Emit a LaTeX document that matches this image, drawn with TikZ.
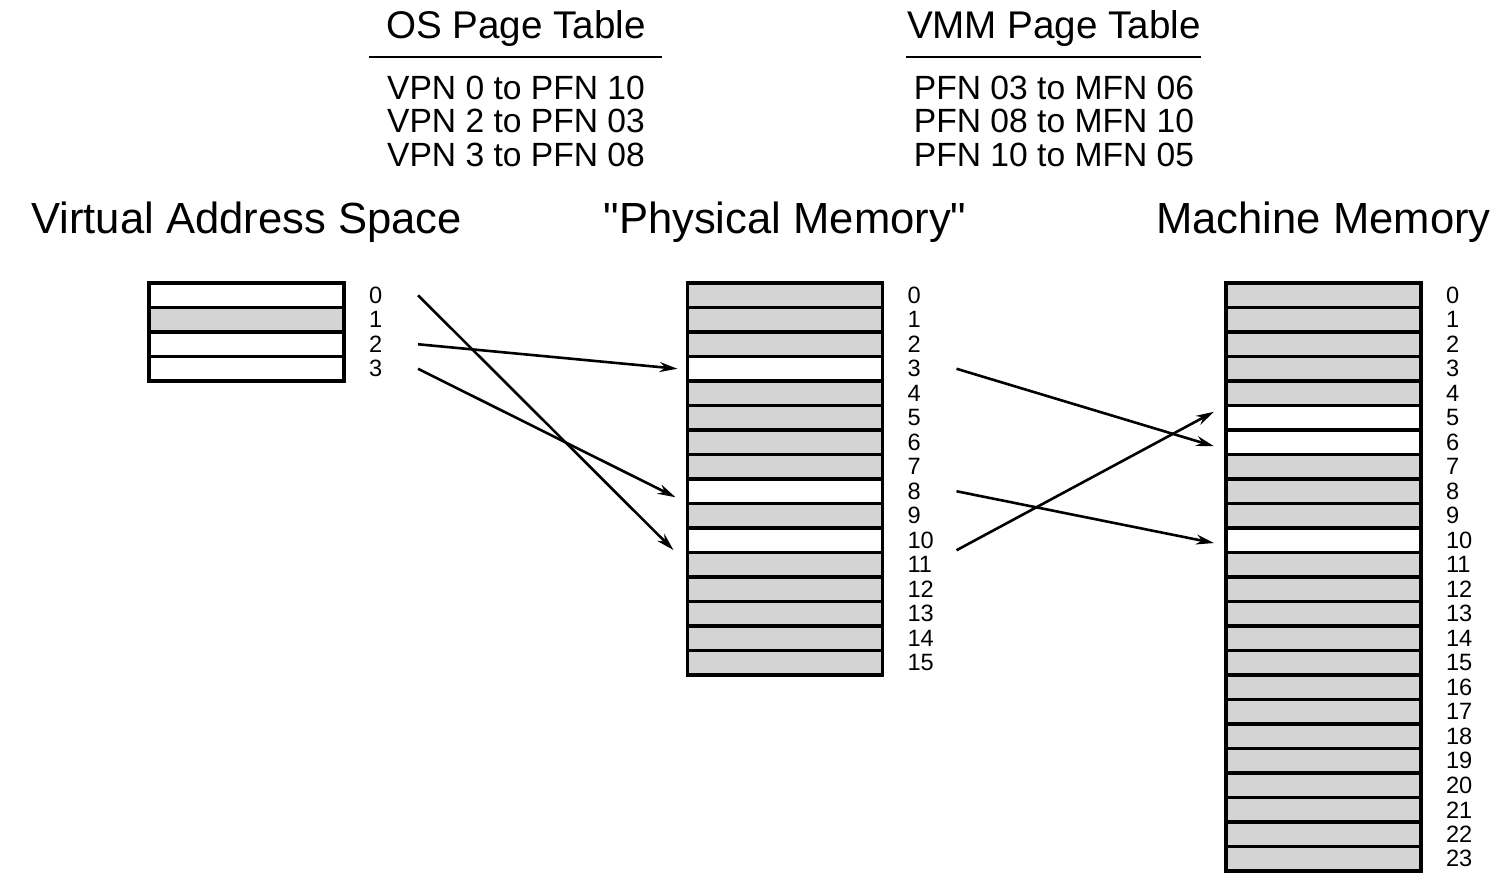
\documentclass[tikz,border=0pt]{standalone}
\usepackage{fontspec}
\setmainfont{Liberation Sans}
\usepackage{tikz}
\usetikzlibrary{positioning}
\usetikzlibrary{arrows.meta}

\begin{document}
\begin{tikzpicture}[
	  x=0.5pt, y=-0.5pt,
	  every node/.style = {inner sep=0pt, outer sep=0pt},
	  page/.style = {draw, line width=1.6pt, minimum width=97.5pt, minimum height=12.25pt},
	  shade0/.style = {fill=black!17},
	  shade1/.style = {fill=white},
	  num/.style = {font=\fontsize{11.8}{12}\selectfont},
	  title/.style = {font=\fontsize{21.8}{24}\selectfont, anchor=base},
	  head/.style = {font=\fontsize{19.3}{22}\selectfont, anchor=base},
	  entry/.style = {font=\fontsize{16.8}{16.75}\selectfont, align=center, anchor=base},
	  rule/.style = {line width=1.2pt},
	  map/.style = {-{Stealth[length=9pt, width=5pt]}, line width=1.3pt}
	]
  \useasboundingbox (0,0) rectangle (1506,879);

  \node[head] (ost) at (516, 38) {OS Page Table};
  \draw[rule] (369, 57) -- (662, 57);
  \node[entry] (osm) at (516, 166) {VPN 0 to PFN 10\\VPN 2 to PFN 03\\VPN 3 to PFN 08};

  \node[head] (vmt) at (1054, 38) {VMM Page Table};
  \draw[rule] (906, 57) -- (1201, 57);
  \node[entry] (vmm) at (1054, 166) {PFN 03 to MFN 06\\PFN 08 to MFN 10\\PFN 10 to MFN 05};

  \node[title] (vast) at (246.5, 233) {Virtual Address Space};
  \node[title] (pmt) at (785, 233) {\textquotedbl Physical Memory\textquotedbl};
  \node[title] (mmt) at (1323.5, 233) {Machine Memory};

  \foreach \i in {0,...,3} {
    \pgfmathtruncatemacro\w{\i!=1}
    \node[page, shade\w] (v\i) at (246.5, 295.25+24.5*\i) {};
    \node[num, right=12.5pt of v\i] (vn\i) {\i};
  }
  \foreach \i in {0,...,15} {
    \pgfmathtruncatemacro\w{\i==3 || \i==8 || \i==10}
    \node[page, shade\w] (p\i) at (785, 295.25+24.5*\i) {};
    \node[num, right=12.5pt of p\i] (pn\i) {\i};
  }
  \foreach \i in {0,...,23} {
    \pgfmathtruncatemacro\w{\i==5 || \i==6 || \i==10}
    \node[page, shade\w] (m\i) at (1323.5, 295.25+24.5*\i) {};
    \node[num, right=12.5pt of m\i] (mn\i) {\i};
  }

  \draw[map] ([xshift=37pt]v0.east) -- ([xshift=-7pt, yshift=-4.9pt]p10.west);
  \draw[map] ([xshift=37pt]v2.east) -- ([xshift=-5pt]p3.west);
  \draw[map] ([xshift=37pt]v3.east) -- ([xshift=-6pt, yshift=-3pt]p8.west);
  \draw[map] ([xshift=37pt]p3.east) -- ([xshift=-6pt, yshift=-2pt]m6.west);
  \draw[map] ([xshift=37pt]p8.east) -- ([xshift=-6pt, yshift=-1.4pt]m10.west);
  \draw[map] ([xshift=37pt, yshift=-5pt]p10.east) -- ([xshift=-6pt, yshift=3pt]m5.west);
\end{tikzpicture}
\end{document}
